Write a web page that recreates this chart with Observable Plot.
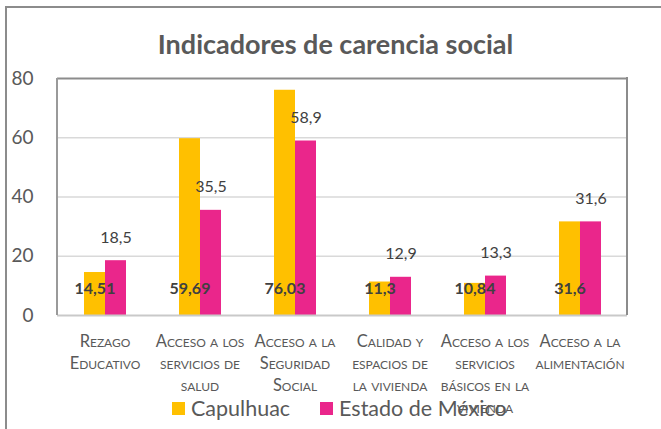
<!DOCTYPE html>
<html><head><meta charset="utf-8">
<script src="https://cdn.jsdelivr.net/npm/d3@7"></script>
<script src="https://cdn.jsdelivr.net/npm/@observablehq/plot@0.6"></script>
<style>
html,body{margin:0;padding:0;width:661px;height:429px;overflow:hidden;background:#fff;font-family:Lato,"Open Sans",sans-serif;}
#wrap{position:relative;width:661px;height:429px;}
#border{position:absolute;left:5px;top:6px;width:700px;height:500px;border-left:2px solid #8c8c8c;border-top:2px solid #8c8c8c;box-sizing:border-box;}
#title{position:absolute;left:0;width:671px;top:27px;text-align:center;font-size:27px;font-weight:bold;color:#595959;}
#legend{position:absolute;top:395px;left:172px;display:flex;align-items:center;font-size:21.5px;color:#595959;white-space:nowrap;}
#legend .sw{width:13px;height:13px;display:inline-block;margin-right:6px;}
#legend .it{display:flex;align-items:center;}
#chart{position:absolute;left:0;top:0;}
</style></head>
<body><div id="wrap"><div id="border"></div><div id="chart"></div><div id="title"></div><div id="legend"></div></div>
<script>
const title = "Indicadores de carencia social";
const categories = ["Rezago Educativo","Acceso a los servicios de salud","Acceso a la Seguridad Social","Calidad y espacios de la vivienda","Acceso a los servicios básicos en la vivienda","Acceso a la alimentación"];
const categoryLines = ["Rezago\nEducativo","Acceso a los\nservicios de\nsalud","Acceso a la\nSeguridad\nSocial","Calidad y\nespacios de\nla vivienda","Acceso a los\nservicios\nbásicos en la\nvivienda","Acceso a la\nalimentación"];
const series = ["Capulhuac","Estado de México"];
const capulhuac = [14.51,59.69,76.03,11.3,10.84,31.6];
const estado = [18.5,35.5,58.9,12.9,13.3,31.6];
const yTicks = [0,20,40,60,80];
const colors = ["#FFC000","#EA268B"];

const fmt = v => String(v).replace(".", ",");
const rows = [];
categories.forEach((c,i) => {
  rows.push({cat:c, s:series[0], v:capulhuac[i]});
  rows.push({cat:c, s:series[1], v:estado[i]});
});
const capRows = rows.filter(d => d.s === series[0]);
const estRows = rows.filter(d => d.s === series[1]);
const catRows = categories.map((c,i) => ({cat:c, label:categoryLines[i]}));

const mL = 57, mR = 34, mT = 78, mB = 114, W = 661, H = 429;

const plot = Plot.plot({
  width: W, height: H,
  marginLeft: mL, marginRight: mR, marginTop: mT, marginBottom: mB,
  style: {fontFamily: "Lato, 'Open Sans', sans-serif", background: "transparent"},
  fx: {domain: categories, padding: 0, axis: null},
  x: {domain: series, paddingInner: 0, paddingOuter: 1.163, axis: null},
  y: {domain: [0, 80], axis: null},
  color: {domain: series, range: colors},
  marks: [
    Plot.ruleY([20,40,60], {stroke: "#d9d9d9", strokeWidth: 1.5}),
    Plot.ruleY([80], {stroke: "#8c8c8c", strokeWidth: 2}),
    Plot.barY(rows, {fx: "cat", x: "s", y: "v", fill: "s"}),
    Plot.ruleY([0], {stroke: "#c9c9c9", strokeWidth: 2}),
    Plot.axisY({ticks: yTicks, tickSize: 0, tickPadding: 24, fontSize: 19, color: "#595959", label: null}),
    Plot.text(capRows, {fx: "cat", x: "s", frameAnchor: "bottom", dy: -22, text: d => fmt(d.v), fontSize: 16, fontWeight: "bold", fill: "#404040"}),
    Plot.text(estRows, {fx: "cat", x: "s", y: "v", dy: -23, text: d => fmt(d.v), fontSize: 16, fontWeight: d => d.v === 58.9 ? "bold" : "normal", fill: "#404040"}),
    Plot.text(catRows, {fx: "cat", frameAnchor: "bottom", dy: 16, lineAnchor: "top", lineHeight: 1.33, text: "label", fontSize: 16.5, fontVariant: "small-caps", fill: "#595959"})
  ]
});
document.getElementById("chart").appendChild(plot);

// plot-area frame edges (left axis line and right border)
const y = plot.scale("y");
const svg = d3.select(plot);
svg.append("line").attr("x1", mL).attr("x2", mL).attr("y1", y.apply(80)).attr("y2", y.apply(0)).attr("stroke", "#9a9a9a").attr("stroke-width", 2);
svg.append("line").attr("x1", W - mR).attr("x2", W - mR).attr("y1", y.apply(80) - 1).attr("y2", y.apply(0)).attr("stroke", "#8c8c8c").attr("stroke-width", 2);

document.getElementById("title").textContent = title;
const lg = d3.select("#legend");
series.forEach((s,i) => {
  const it = lg.append("div").attr("class","it").style("margin-right", i === 0 ? "30px" : "0");
  it.append("span").attr("class","sw").style("background", colors[i]);
  it.append("span").text(s);
});
</script></body></html>
